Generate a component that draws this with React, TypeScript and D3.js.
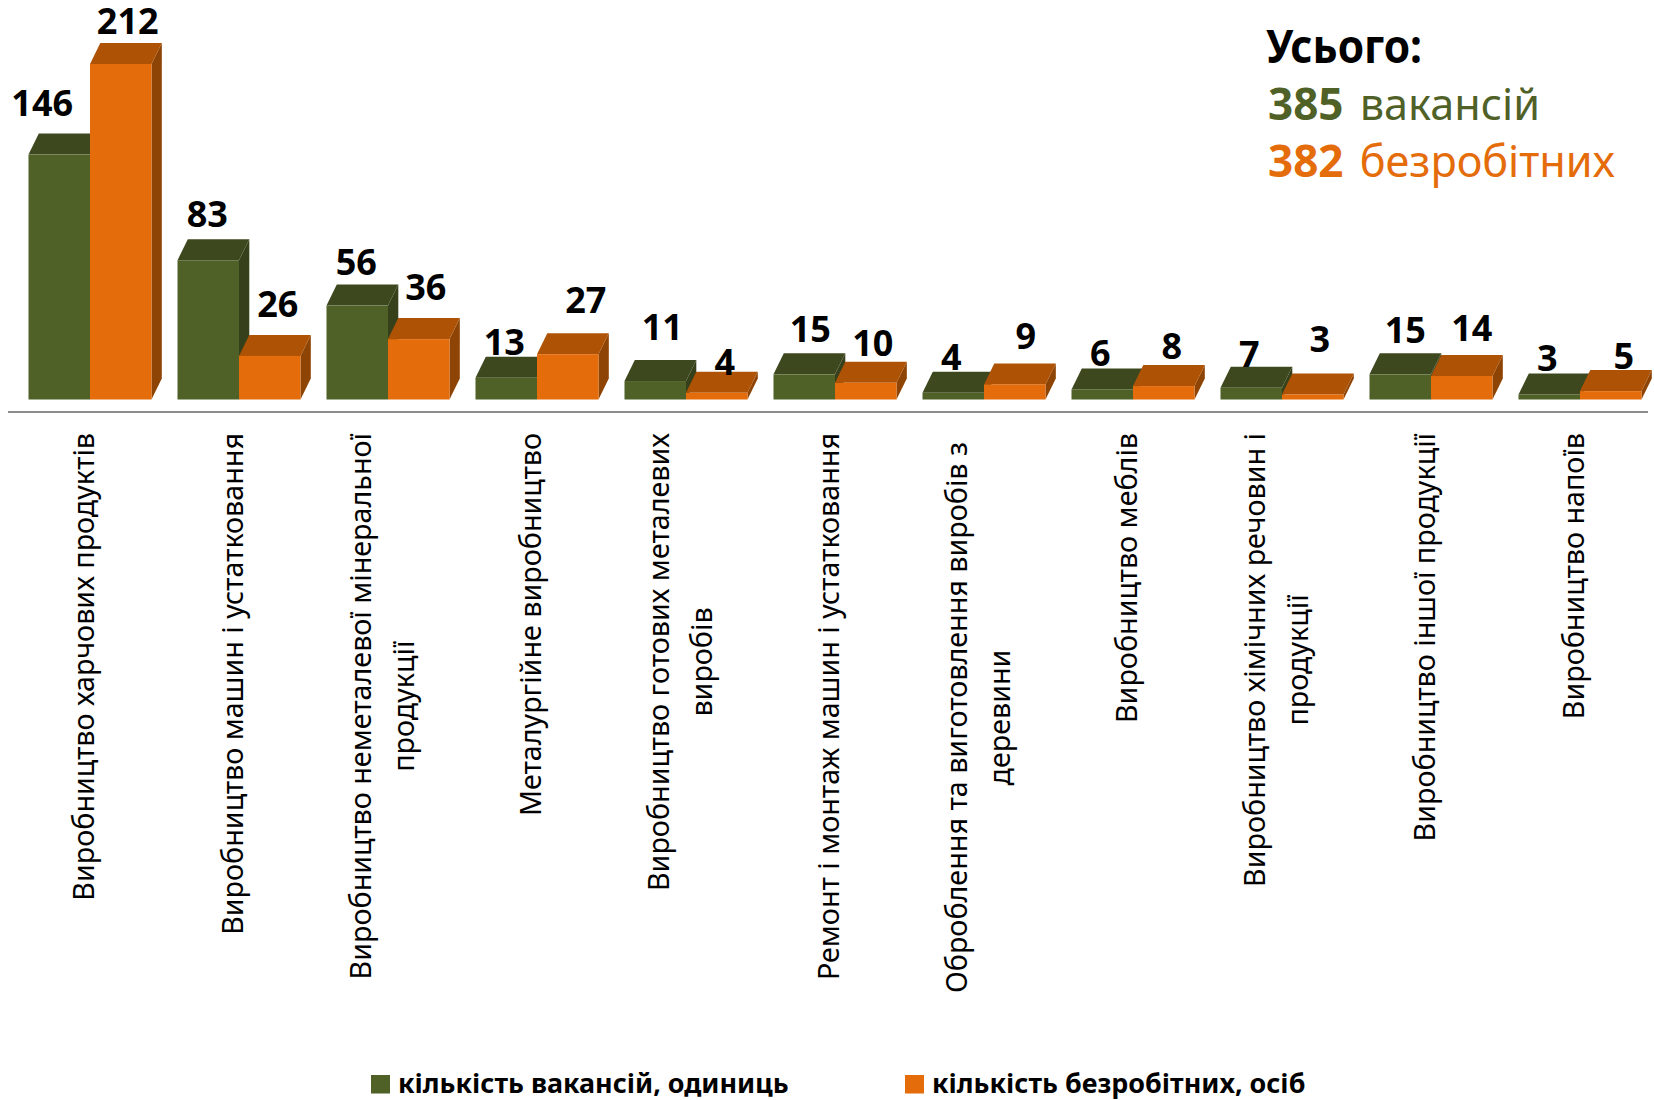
import React, { useEffect, useRef } from 'react';
import * as d3 from 'd3';

const categories = [
  ['Виробництво харчових продуктів'],
  ['Виробництво машин і устатковання'],
  ['Виробництво неметалевої мінеральної', 'продукції'],
  ['Металургійне виробництво'],
  ['Виробництво готових металевих', 'виробів'],
  ['Ремонт і монтаж машин і устатковання'],
  ['Оброблення та виготовлення виробів з', 'деревини'],
  ['Виробництво меблів'],
  ['Виробництво хімічних речовин і', 'продукції'],
  ['Виробництво іншої продукції'],
  ['Виробництво напоїв'],
];
const vacancies = [146, 83, 56, 13, 11, 15, 4, 6, 7, 15, 3];
const unemployed = [212, 26, 36, 27, 4, 10, 9, 8, 3, 14, 5];
const legendLabels = ['кількість вакансій, одиниць', 'кількість безробітних, осіб'];

// hand placed data labels in the original: [dx, dy] from the default spot
const vacancyNudge = [[-17, -8], [-1, -2], [-1, 0], [-2, 8], [7, -10], [6, -1], [-2, 8], [-2, 8], [-2, 10], [5, 0], [-2, 8]];
const unemployedNudge = [[7, 1], [8, -8], [7, -8], [18, -10], [8, 13], [7, 4], [11, -4], [8, 4], [7, -11], [10, -4], [13, 9]];

const GREEN = { front: '#506128', top: '#3e481e', side: '#36401a' };
const ORANGE = { front: '#e46c0a', top: '#ae5305', side: '#8e4404' };
const FONT = '"Noto Sans", sans-serif';

const App = () => {
  const ref = useRef<SVGSVGElement>(null);

  useEffect(() => {
    const svg = d3.select(ref.current);
    svg.selectAll('*').remove();

    const baseline = 399.5;
    const depthX = 10.3;
    const depthY = 21;

    const x = d3.scaleBand().domain(d3.range(categories.length).map(String)).range([15.5, 1654.5]);
    const inner = d3.scaleBand().domain(['v', 'u']).range([13, x.bandwidth() - 13]);
    // axis tops out at 200, so the 212 bar is cut off
    const y = d3.scaleLinear().domain([0, 200]).range([baseline, 64]).clamp(true);

    svg.append('line')
      .attr('x1', 8).attr('x2', 1648).attr('y1', 412).attr('y2', 412)
      .attr('stroke', '#8c8c8c').attr('stroke-width', 2);

    const drawBar = (g: any, bx: number, value: number, c: typeof GREEN) => {
      const w = inner.bandwidth();
      const top = y(value);
      g.append('path')
        .attr('d', `M${bx + w},${baseline}L${bx + w + depthX},${baseline - depthY}L${bx + w + depthX},${top - depthY}L${bx + w},${top}Z`)
        .attr('fill', c.side);
      g.append('path')
        .attr('d', `M${bx},${top}L${bx + depthX},${top - depthY}L${bx + w + depthX},${top - depthY}L${bx + w},${top}Z`)
        .attr('fill', c.top);
      g.append('rect')
        .attr('x', bx).attr('y', top).attr('width', w).attr('height', baseline - top)
        .attr('fill', c.front);
    };

    const barsG = svg.append('g');
    categories.forEach((_, i) => {
      const g = barsG.append('g').attr('transform', `translate(${x(String(i))},0)`);
      drawBar(g, inner('v')!, vacancies[i], GREEN);
      drawBar(g, inner('u')!, unemployed[i], ORANGE);
    });

    const labelsG = svg.append('g')
      .attr('font-family', FONT).attr('font-weight', 700).attr('font-size', 36)
      .attr('text-anchor', 'middle').attr('fill', '#000');
    const valueLabel = (i: number, key: string, value: number, nudge: number[]) => {
      labelsG.append('text')
        .attr('x', x(String(i))! + inner(key)! + inner.bandwidth() / 2 + nudge[0])
        .attr('y', y(value) - depthY - 10 + nudge[1])
        .text(value);
    };
    categories.forEach((_, i) => {
      valueLabel(i, 'v', vacancies[i], vacancyNudge[i]);
      valueLabel(i, 'u', unemployed[i], unemployedNudge[i]);
    });

    // category labels run bottom to top, second line centred on the first
    const catG = svg.append('g')
      .attr('font-family', FONT).attr('font-size', 28.7).attr('fill', '#000').attr('text-anchor', 'middle');
    categories.forEach((lines, i) => {
      const cx = x(String(i))! + x.bandwidth() / 2 + 4;
      const probe = catG.append('text').text(lines[0]);
      const len = (probe.node() as SVGTextElement).getComputedTextLength();
      probe.remove();
      // the seventh label has a trailing space in the original, so it starts lower
      const midY = (i === 6 ? 442 : 433) + len / 2;
      lines.forEach((line, j) => {
        const lx = cx + (j - (lines.length - 1) / 2) * 43;
        catG.append('text')
          .attr('transform', `translate(${lx},${midY}) rotate(-90)`)
          .text(line);
      });
    });

    const legend = svg.append('g').attr('font-family', FONT).attr('font-weight', 700).attr('font-size', 26.9);
    [371, 905].forEach((lx, i) => {
      legend.append('rect').attr('x', lx).attr('y', 1075).attr('width', 19).attr('height', 18.5)
        .attr('fill', i === 0 ? GREEN.front : ORANGE.front);
      legend.append('text').attr('x', lx + 27).attr('y', 1093).text(legendLabels[i]);
    });

    const totals = svg.append('g').attr('font-family', FONT).attr('font-size', 43.2);
    totals.append('text').attr('x', 1266).attr('y', 63).attr('font-weight', 700).attr('font-size', 46)
      .attr('textLength', 156).attr('lengthAdjust', 'spacingAndGlyphs').text('Усього:');
    const t1 = totals.append('text').attr('x', 1268).attr('y', 120).attr('fill', GREEN.front);
    t1.append('tspan').attr('font-weight', 700).attr('font-size', 44).text('385');
    t1.append('tspan').attr('dx', 5).text(' вакансій');
    const t2 = totals.append('text').attr('x', 1268).attr('y', 177).attr('fill', ORANGE.front);
    t2.append('tspan').attr('font-weight', 700).attr('font-size', 44).text('382');
    t2.append('tspan').attr('dx', 5).text(' безробітних');
  }, []);

  return (
    <svg
      ref={ref}
      width={1654}
      height={1100}
      style={{ position: 'absolute', left: 0, top: 0, background: '#fff' }}
    />
  );
};

export default App;
